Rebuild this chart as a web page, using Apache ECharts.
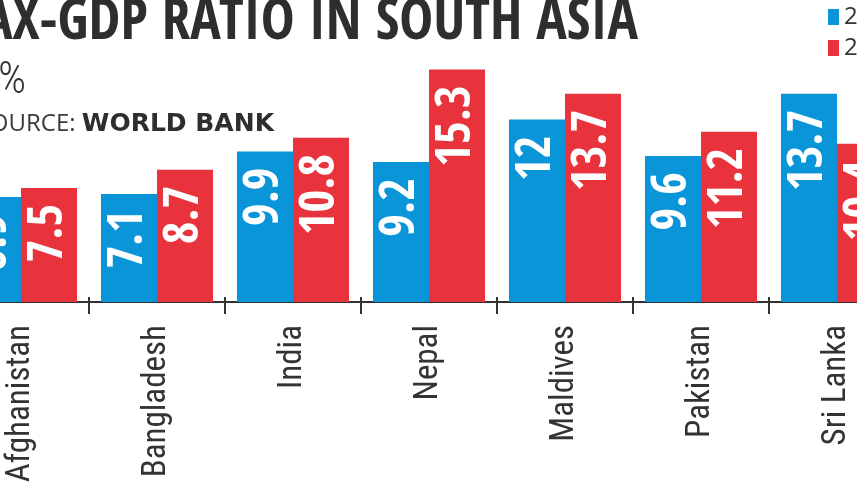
<!DOCTYPE html>
<html>
<head>
<meta charset="utf-8">
<script src="https://cdn.jsdelivr.net/npm/echarts@6/dist/echarts.min.js"></script>
<style>
  html, body { margin: 0; padding: 0; background: #ffffff; }
  #chart { width: 857px; height: 482px; }
</style>
</head>
<body>
<div id="chart"></div>
<script>
// ---- data ----
var categories = ['Afghanistan', 'Bangladesh', 'India', 'Nepal', 'Maldives', 'Pakistan', 'Sri Lanka'];
var seriesNames = ['2010', '2020'];
var valuesFirst = [6.9, 7.1, 9.9, 9.2, 12, 9.6, 13.7];
var valuesSecond = [7.5, 8.7, 10.8, 15.3, 13.7, 11.2, 10.4];
var titleText = 'TAX-GDP RATIO IN SOUTH ASIA';
var unitText = 'In %';
var sourceLabel = 'SOURCE: ';
var sourceName = 'WORLD BANK';

var BLUE = '#0a95d8';
var RED = '#e8323c';
var DARK = '#333333';
var COND = '"Open Sans Condensed", "Roboto Condensed", sans-serif';
var COND_LIGHT = '"Roboto Condensed", "Open Sans Condensed", sans-serif';

// measure title to compress it horizontally
var titleFont = 'bold 58px ' + COND;
var cv = document.createElement('canvas').getContext('2d');
cv.font = titleFont;
var wFull = cv.measureText(titleText).width;
var wT = cv.measureText('T').width;
var titleScale = 654 / (wFull - wT);

var chart = echarts.init(document.getElementById('chart'), null, { renderer: 'canvas' });

var labelStyle = {
  show: true,
  position: 'insideTop',
  rotate: 90,
  align: 'right',
  verticalAlign: 'middle',
  distance: 16,
  color: '#ffffff',
  fontFamily: COND,
  fontWeight: 'bold',
  fontSize: 49,
  formatter: function (p) { return String(p.value); }
};

var option = {
  animation: false,
  backgroundColor: '#ffffff',
  legend: {
    orient: 'vertical',
    left: 823,
    top: 0,
    itemWidth: 11,
    itemHeight: 16,
    itemGap: 7,
    icon: 'rect',
    textStyle: { fontSize: 24, color: DARK, fontFamily: '"Open Sans", sans-serif' },
    data: seriesNames
  },
  grid: { left: -47, width: 952, top: -2, bottom: 171, containLabel: false, outerBoundsMode: 'none' },
  xAxis: [
    {
      type: 'category',
      data: categories,
      position: 'bottom',
      axisLine: { show: true, lineStyle: { color: DARK, width: 2 } },
      axisTick: { show: true, inside: false, length: 12, lineStyle: { color: DARK, width: 2 } },
      axisLabel: {
        rotate: 90,
        margin: 14,
        fontSize: 33,
        color: DARK,
        fontFamily: COND_LIGHT,
        fontWeight: 'normal',
        interval: 0,
        hideOverlap: false
      },
      splitLine: { show: false }
    },
    {
      type: 'category',
      data: categories,
      position: 'bottom',
      axisLine: { show: false },
      axisTick: { show: true, inside: true, length: 14, lineStyle: { color: DARK, width: 2 } },
      axisLabel: { show: false },
      splitLine: { show: false }
    }
  ],
  yAxis: {
    type: 'value',
    min: -0.6,
    max: 20,
    show: false,
    splitLine: { show: false }
  },
  series: [
    {
      name: seriesNames[0],
      type: 'bar',
      xAxisIndex: 0,
      data: valuesFirst,
      barWidth: 56,
      barGap: '0%',
      itemStyle: { color: BLUE },
      label: labelStyle
    },
    {
      name: seriesNames[1],
      type: 'bar',
      xAxisIndex: 0,
      data: valuesSecond,
      barWidth: 56,
      barGap: '0%',
      itemStyle: { color: RED },
      label: labelStyle
    }
  ],
  graphic: [
    {
      type: 'text',
      x: 638,
      y: 24,
      scaleX: titleScale,
      style: {
        text: titleText,
        font: titleFont,
        fill: '#2e2e2e',
        align: 'right',
        verticalAlign: 'middle'
      }
    },
    {
      type: 'text',
      x: 26,
      y: 82,
      style: {
        text: unitText,
        fontSize: 44,
        fontWeight: 300,
        fontFamily: COND_LIGHT,
        fill: DARK,
        align: 'right',
        verticalAlign: 'middle'
      }
    },
    {
      type: 'text',
      x: 274,
      y: 124,
      style: {
        text: '{a|' + sourceLabel + '}{b|' + sourceName + '}',
        align: 'right',
        verticalAlign: 'middle',
        rich: {
          a: { fontSize: 24, fontFamily: '"Open Sans", sans-serif', fill: '#3a3a3a', color: '#3a3a3a' },
          b: { fontSize: 25, fontWeight: 'bold', fontFamily: '"DejaVu Sans", sans-serif', fill: '#2e2e2e', color: '#2e2e2e' }
        }
      }
    }
  ]
};

chart.setOption(option);
</script>
</body>
</html>
